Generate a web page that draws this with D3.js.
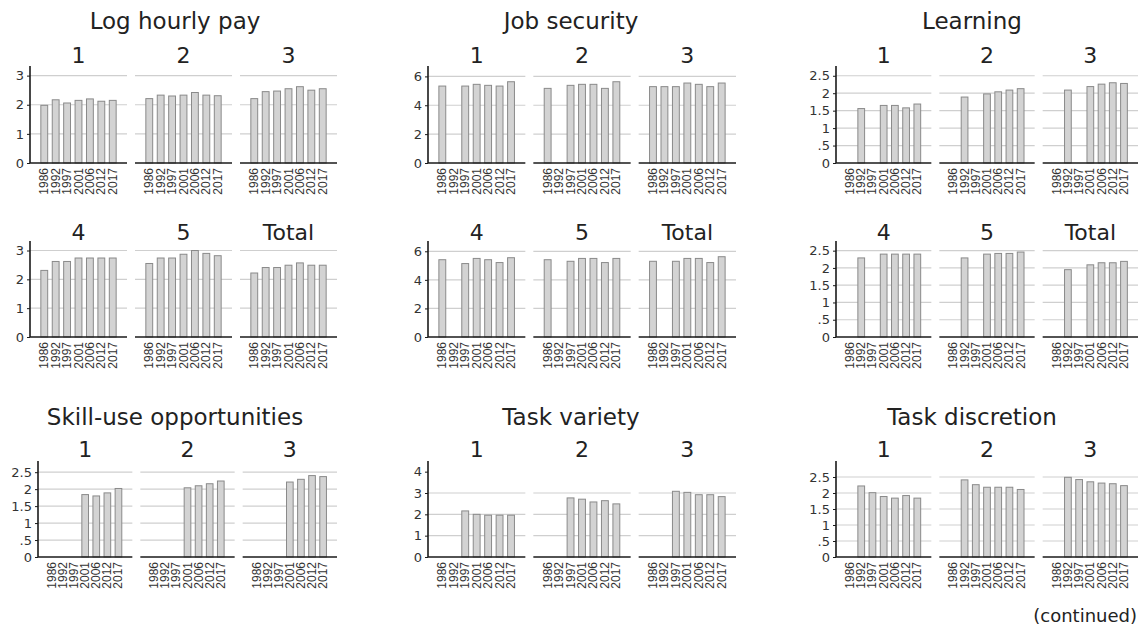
<!DOCTYPE html>
<meta charset="utf-8">
<html>
<head>
<style>
  body { margin: 0; background: #fff; }
  svg { display: block; }
  .ttl { font-family: "DejaVu Sans", sans-serif; fill: #222; }
  .tick text { font-family: "DejaVu Sans", sans-serif; font-size: 13px; fill: #333; }
  .yr { font-family: "Liberation Sans", Arial, sans-serif; font-size: 12px; fill: #333; }
</style>
</head>
<body>
<svg width="1140" height="629" id="chart"></svg>
<script src="https://d3js.org/d3.v7.min.js"></script>
<script>
// ---- data ----
var years = ["1986", "1992", "1997", "2001", "2006", "2012", "2017"];
var groupsSix = ["1", "2", "3", "4", "5", "Total"];
var groupsThree = ["1", "2", "3"];

var logHourlyPay = [
    [1.98, 2.17, 2.06, 2.15, 2.20, 2.12, 2.15],
    [2.21, 2.33, 2.30, 2.33, 2.42, 2.33, 2.31],
    [2.21, 2.45, 2.47, 2.55, 2.62, 2.50, 2.55],
    [2.31, 2.62, 2.62, 2.74, 2.74, 2.74, 2.74],
    [2.55, 2.74, 2.74, 2.87, 3.00, 2.90, 2.82],
    [2.22, 2.41, 2.41, 2.49, 2.57, 2.49, 2.49]
];
var jobSecurity = [
    [5.33, null, 5.33, 5.45, 5.38, 5.33, 5.63],
    [5.17, null, 5.38, 5.45, 5.45, 5.17, 5.63],
    [5.29, 5.29, 5.29, 5.54, 5.45, 5.29, 5.54],
    [5.41, null, 5.14, 5.50, 5.41, 5.21, 5.55],
    [5.41, null, 5.30, 5.50, 5.50, 5.21, 5.50],
    [5.30, null, 5.30, 5.50, 5.50, 5.21, 5.62]
];
var learning = [
    [null, 1.56, null, 1.65, 1.65, 1.58, 1.69],
    [null, 1.89, null, 1.98, 2.04, 2.09, 2.13],
    [null, 2.09, null, 2.19, 2.26, 2.30, 2.28],
    [null, 2.29, null, 2.40, 2.40, 2.40, 2.40],
    [null, 2.29, null, 2.40, 2.42, 2.42, 2.46],
    [null, 1.95, null, 2.09, 2.15, 2.15, 2.19]
];
var skillUse = [
    [null, null, null, 1.84, 1.80, 1.89, 2.02],
    [null, null, null, 2.04, 2.10, 2.16, 2.24],
    [null, null, null, 2.21, 2.29, 2.40, 2.37]
];
var taskVariety = [
    [null, null, 2.16, 2.00, 1.96, 1.96, 1.96],
    [null, null, 2.77, 2.71, 2.58, 2.64, 2.49],
    [null, null, 3.08, 3.03, 2.92, 2.92, 2.83]
];
var taskDiscretion = [
    [null, 2.22, 2.01, 1.89, 1.84, 1.92, 1.84],
    [null, 2.41, 2.26, 2.18, 2.18, 2.18, 2.11],
    [null, 2.49, 2.42, 2.35, 2.31, 2.29, 2.23]
];

var ticksPay = [0, 1, 2, 3];
var ticksSecurity = [0, 2, 4, 6];
var ticksHalf = [0, 0.5, 1, 1.5, 2, 2.5];
var ticksVariety = [0, 1, 2, 3, 4];

// ---- layout ----
var svg = d3.select("#chart");
var gap = 8;
var rowA = { top: 66, bottom: 163, labelY: 63, titleY: 29 };
var rowB = { top: 241, bottom: 337, labelY: 240 };
var rowC = { top: 461, bottom: 557, labelY: 457, titleY: 425 };

var fmt = function (d) { return d === 0 ? "0" : String(d).replace(/^0\./, "."); };

var charts = [
    { title: "Log hourly pay", groups: groupsSix, values: logHourlyPay, ticks: ticksPay, grid: [1, 2, 3], ymax: 3.33, axisX: 30, right: 337, titleX: 175, rows: [rowA, rowB] },
    { title: "Job security", groups: groupsSix, values: jobSecurity, ticks: ticksSecurity, grid: [2, 4, 6], ymax: 6.72, axisX: 428, right: 736, titleX: 571, rows: [rowA, rowB] },
    { title: "Learning", groups: groupsSix, values: learning, ticks: ticksHalf, grid: [0.5, 1, 1.5, 2, 2.5], ymax: 2.78, axisX: 836, right: 1138, titleX: 972, rows: [rowA, rowB] },
    { title: "Skill-use opportunities", groups: groupsThree, values: skillUse, ticks: ticksHalf, grid: [0.5, 1, 1.5, 2, 2.5], ymax: 2.83, axisX: 38, right: 337, titleX: 175, rows: [rowC] },
    { title: "Task variety", groups: groupsThree, values: taskVariety, ticks: ticksVariety, grid: [1, 2, 3], ymax: 4.5, axisX: 428, right: 736, titleX: 571, rows: [rowC] },
    { title: "Task discretion", groups: groupsThree, values: taskDiscretion, ticks: ticksHalf, grid: [0.5, 1, 1.5, 2, 2.5], ymax: 3.0, axisX: 836, right: 1138, titleX: 972, rows: [rowC] }
];

charts.forEach(function (c) {
    svg.append("text").attr("class", "ttl")
        .attr("x", c.titleX).attr("y", c.rows[0].titleY)
        .attr("text-anchor", "middle").style("font-size", "23px")
        .text(c.title);

    var pw = (c.right - c.axisX - 2 * gap) / 3;
    var x = d3.scaleBand().domain(years).range([0, pw]).paddingInner(0.4).paddingOuter(0.95);

    c.groups.forEach(function (gname, gi) {
        var row = c.rows[Math.floor(gi / 3)];
        var col = gi % 3;
        var x0 = c.axisX + col * (pw + gap);
        var y = d3.scaleLinear().domain([0, c.ymax]).range([row.bottom, row.top]);
        var g = svg.append("g").attr("transform", "translate(" + x0 + ",0)");

        // panel label
        g.append("text").attr("class", "ttl")
            .attr("x", pw / 2).attr("y", row.labelY)
            .attr("text-anchor", "middle").style("font-size", "22px")
            .text(gname);

        // gridlines
        g.selectAll(".grid").data(c.grid).enter().append("line")
            .attr("x1", 0).attr("x2", pw)
            .attr("y1", function (d) { return y(d); }).attr("y2", function (d) { return y(d); })
            .attr("stroke", "#cfcfcf").attr("stroke-width", 1.2);

        // bars
        var vals = c.values[gi];
        g.selectAll(".bar").data(years.map(function (yr, i) { return { yr: yr, v: vals[i] }; })
            .filter(function (d) { return d.v != null; }))
            .enter().append("rect")
            .attr("x", function (d) { return x(d.yr); })
            .attr("y", function (d) { return y(d.v); })
            .attr("width", x.bandwidth())
            .attr("height", function (d) { return y(0) - y(d.v); })
            .attr("fill", "#d3d3d3").attr("stroke", "#8a8a8a").attr("stroke-width", 1);

        // baseline
        g.append("line").attr("x1", 0).attr("x2", pw)
            .attr("y1", y(0)).attr("y2", y(0))
            .attr("stroke", "#1a1a1a").attr("stroke-width", 1.6);

        // year labels
        g.selectAll(".yr").data(years).enter().append("text")
            .attr("class", "yr")
            .attr("transform", function (d) {
                return "translate(" + (x(d) + x.bandwidth() / 2) + "," + (row.bottom + 5) + ") rotate(-90)";
            })
            .attr("text-anchor", "end").attr("dominant-baseline", "central")
            .text(function (d) { return d; });

        // y axis on first panel of each row
        if (col === 0) {
            var ax = g.append("g")
                .call(d3.axisLeft(y).tickValues(c.ticks).tickFormat(fmt).tickSize(3).tickPadding(3));
            ax.select(".domain").attr("d", "M0," + row.bottom + "V" + row.top)
                .attr("stroke", "#1a1a1a").attr("stroke-width", 1.6);
            ax.selectAll(".tick line").attr("stroke", "#1a1a1a");
        }
    });
});

svg.append("text").attr("class", "ttl")
    .attr("x", 1137).attr("y", 622)
    .attr("text-anchor", "end").style("font-size", "18px")
    .text("(continued)");
</script>
</body>
</html>
